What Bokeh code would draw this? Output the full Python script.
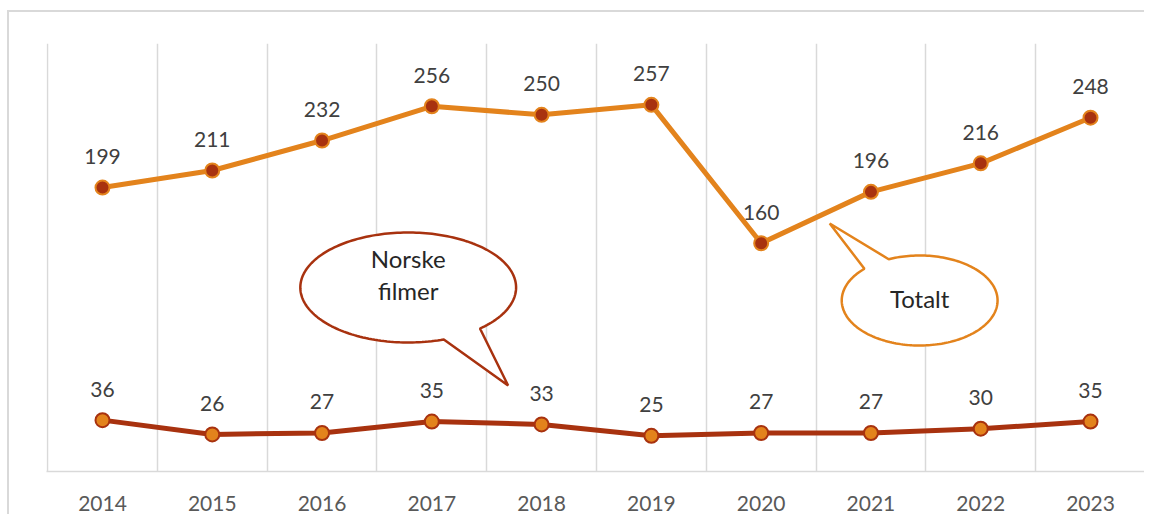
import numpy as np
from bokeh.plotting import figure
from bokeh.layouts import column, row
from bokeh.models import ColumnDataSource, Range1d, FixedTicker, Spacer
from bokeh.core.properties import value
from bokeh.embed import file_html
from bokeh.resources import INLINE

years = ["2014", "2015", "2016", "2017", "2018", "2019", "2020", "2021", "2022", "2023"]
totalt = [199, 211, 232, 256, 250, 257, 160, 196, 216, 248]
norske = [36, 26, 27, 35, 33, 25, 27, 27, 30, 35]

ORANGE = "#E3831C"
DARK = "#A8320F"
GRID = "#d9d9d9"
FONT = "Lato"

xs = list(range(len(years)))

# page offsets of the chart box (its light border sits at x=8, y=11)
OX, OY = 8, 11
PAD = 0.01  # tiny range padding so edge grid lines are not clipped
W, H = 1137, 504
p = figure(width=W, height=H, output_backend="svg", toolbar_location=None,
           x_range=Range1d(-0.5 - PAD, len(years) - 0.5 + PAD), y_range=Range1d(0, 300),
           y_axis_location=None,
           min_border_left=47 - OX - 2, min_border_right=0,
           min_border_top=43 - OY - 1, min_border_bottom=H - (471 - OY - 1))
p.outline_line_color = None
p.background_fill_color = "white"
p.border_fill_color = "white"
p.styles = {"border-left": "2px solid #d9d9d9", "border-top": "2px solid #d9d9d9"}

p.ygrid.visible = False
p.xgrid.ticker = FixedTicker(ticks=[i - 0.5 for i in range(len(years) + 1)])
p.xgrid.grid_line_color = GRID
p.xgrid.grid_line_width = 1.5

p.xaxis.ticker = FixedTicker(ticks=xs)
p.xaxis.major_label_overrides = {i: y for i, y in enumerate(years)}
p.xaxis.axis_line_color = GRID
p.xaxis.axis_line_width = 1.5
p.xaxis.major_tick_line_color = None
p.xaxis.minor_tick_line_color = None
p.xaxis.major_label_standoff = 18
p.xaxis.major_label_text_font = FONT
p.xaxis.major_label_text_font_size = "21px"
p.xaxis.major_label_text_color = "#595959"

src = ColumnDataSource(dict(x=xs, totalt=totalt, norske=norske,
                            tl=[str(v) for v in totalt], nl=[str(v) for v in norske]))

p.line("x", "totalt", source=src, line_width=5, line_color=ORANGE)
p.scatter("x", "totalt", source=src, size=14, fill_color=DARK, line_color=ORANGE, line_width=2)
p.line("x", "norske", source=src, line_width=5, line_color=DARK)
p.scatter("x", "norske", source=src, size=14, fill_color=ORANGE, line_color=DARK, line_width=2)

for col, lab in (("totalt", "tl"), ("norske", "nl")):
    p.text("x", col, text=lab, source=src, y_offset=-31, text_align="center",
           text_baseline="middle", text_font=value(FONT), text_font_size="21px",
           text_color="#404040")

# callout bubbles (pixel geometry in reference-image coordinates, converted into data units)
PX_PER_X = 1099 / 10.0
PX_PER_Y = 428 / 300.0


def dx(px):
    return (px - 47) / PX_PER_X - 0.5


def dy(py):
    return (471 - py) / PX_PER_Y


def bubble(cx, cy, a, b, base1, base2, tip):
    t1 = np.arctan2((base1[1] - cy) / b, (base1[0] - cx) / a)
    t2 = np.arctan2((base2[1] - cy) / b, (base2[0] - cx) / a)
    lo, hi = min(t1, t2), max(t1, t2)
    ang = np.linspace(hi, lo + 2 * np.pi, 200)
    px = list(cx + a * np.cos(ang)) + [tip[0]]
    py = list(cy + b * np.sin(ang)) + [tip[1]]
    return [dx(v) for v in px], [dy(v) for v in py]


bx, by = bubble(408, 287, 108, 55, (478, 327), (443, 338), (508, 385))
p.patch(bx, by, fill_color="white", line_color=DARK, line_width=2.5)
bx, by = bubble(920, 300, 78, 45, (890, 260), (866, 269), (830, 223))
p.patch(bx, by, fill_color="white", line_color=ORANGE, line_width=2.5)

p.text(x=[dx(408), dx(408), dx(920)], y=[dy(258), dy(290), dy(298)],
       text=["Norske", "filmer", "Totalt"], text_align="center", text_baseline="middle",
       text_font=value(FONT), text_font_size="24px", text_color="#262626")

layout = column(Spacer(height=OY - 1, width=10),
                row(Spacer(width=OX - 1, height=10), p))

open("out.html", "w").write(file_html(layout, INLINE))
